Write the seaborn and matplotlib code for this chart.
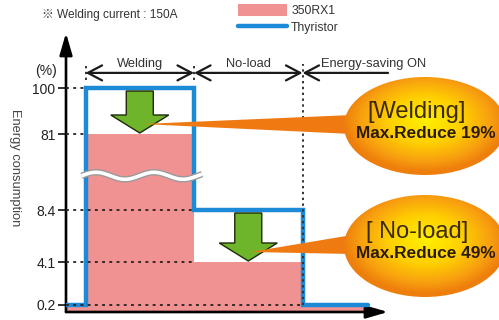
import numpy as np
import pandas as pd
import matplotlib
matplotlib.use("Agg")
import matplotlib.pyplot as plt
import seaborn as sns
from matplotlib.patches import Ellipse, Polygon
from matplotlib.colors import LinearSegmentedColormap
from matplotlib.ticker import NullLocator

# ---- data -------------------------------------------------------------
phases = ["Welding", "No-load", "Energy-saving ON"]
phase_edges = [0.0, 0.9, 5.9, 10.9, 13.9]      # idle | welding | no-load | energy-saving
thyristor = [0.2, 100, 8.4, 0.2]                # energy consumption (%) per phase
rx350 = [0.2, 81, 4.1, 0.2]
tick_values = [0.2, 4.1, 8.4, 81, 100]
series_names = ["350RX1", "Thyristor"]
callout_titles = ["[Welding]", "[ No-load]"]
callout_texts = ["Max.Reduce 19%", "Max.Reduce 49%"]
note = "※ Welding current : 150A"

# ---- styling ----------------------------------------------------------
sns.set_theme(style="white")
plt.rcParams["font.family"] = ["Liberation Sans", "Noto Sans CJK JP", "DejaVu Sans"]
BLUE = "#1d8ad8"
PINK = "#f19292"
GREEN = "#6fb52c"
ORANGE = "#f07a12"
INK = "#222222"

W, H = 499, 320
fig = plt.figure(figsize=(W / 100, H / 100), dpi=100)
fig.patch.set_facecolor("white")

# broken vertical scale: values -> stacked screen positions
scale_vals = [0, 0.2, 4.1, 8.4, 81, 100, 200]
scale_pos = [0, 7, 50, 102, 178, 224, 290]


def fwd(v):
    return np.interp(v, scale_vals, scale_pos)


def inv(p):
    return np.interp(p, scale_pos, scale_vals)


ax = fig.add_axes([66 / W, 8 / H, 322 / W, 279 / H])
ax.set_yscale("function", functions=(fwd, inv))
ax.set_xlim(0, 14.84)
ax.set_ylim(0, float(inv(279)))
ax.patch.set_alpha(0)
for s in ax.spines.values():
    s.set_visible(False)

# 350RX1 filled steps
pink = ax.fill_between(phase_edges, rx350 + rx350[-1:], step="post",
                       color=PINK, lw=0, zorder=2, label=series_names[0])

# Thyristor step line
df_line = pd.DataFrame({"t": phase_edges, "energy": thyristor + thyristor[-1:]})
sns.lineplot(data=df_line, x="t", y="energy", ax=ax, estimator=None,
             drawstyle="steps-post", color=BLUE, lw=3.2, zorder=4,
             legend=False)
line = ax.lines[-1]
line.set_solid_joinstyle("miter")
ax.set_xlabel("")
ax.set_ylabel("")

# dotted guides from the axis to where each level begins
for v in tick_values:
    idx = max(i for i, pair in enumerate(zip(thyristor, rx350)) if v in pair)
    ax.plot([0, phase_edges[idx]], [v, v], ls=(0, (1.6, 2.4)), color=INK,
            lw=1.3, zorder=5)

# y ticks
ax.set_yticks(tick_values)
ax.set_yticklabels([f"{v:g}" for v in tick_values])
ax.yaxis.set_minor_locator(NullLocator())
ax.set_xticks([])
ax.tick_params(axis="y", left=True, length=6, width=1.3, pad=1.5,
               labelsize=10, colors=INK)

# axes with arrow heads
axis_arrow = dict(arrowstyle="-|>,head_length=1.1,head_width=0.32", lw=1.9,
                  color="black", shrinkA=0, shrinkB=0)
ax.annotate("", xy=(0, 1), xytext=(0, 0), xycoords="axes fraction",
            arrowprops=axis_arrow, annotation_clip=False)
ax.annotate("", xy=(1, 0), xytext=(0, 0), xycoords="axes fraction",
            arrowprops=axis_arrow, annotation_clip=False)

# phase spans across the top
trans = ax.get_xaxis_transform()
span_y = 0.857
x_end = ax.get_xlim()[1]
span_arrow = dict(arrowstyle="<->,head_length=0.85,head_width=0.45", lw=1.6,
                  color="#1a1a1a", shrinkA=0, shrinkB=0)
ax.annotate("", xy=(phase_edges[2], span_y), xytext=(phase_edges[1], span_y),
            xycoords=trans, textcoords=trans, arrowprops=span_arrow,
            annotation_clip=False)
ax.annotate("", xy=(phase_edges[3], span_y), xytext=(phase_edges[2], span_y),
            xycoords=trans, textcoords=trans, arrowprops=span_arrow,
            annotation_clip=False)
ax.annotate("", xy=(phase_edges[3], span_y), xytext=(x_end, span_y),
            xycoords=trans, textcoords=trans,
            arrowprops=dict(span_arrow, arrowstyle="->,head_length=0.85,head_width=0.45"),
            annotation_clip=False)

dot_style = dict(ls=(0, (1.2, 1.8)), color="#333333", lw=1.4, zorder=5,
                 clip_on=False)
for xb in phase_edges[1:3]:
    ax.plot([xb, xb], [0.832, 0.89], transform=trans, **dot_style)
y_low = ax.transAxes.inverted().transform(
    ax.transData.transform((phase_edges[3], tick_values[0])))[1]
ax.plot([phase_edges[3], phase_edges[3]], [y_low, 0.89], transform=trans,
        **dot_style)

for name, a, b in zip(phases[:2], phase_edges[1:3], phase_edges[2:4]):
    ax.text((a + b) / 2, 0.878, name, transform=trans, ha="center",
            va="baseline", fontsize=9.3, color="#333333")
ax.annotate(phases[2], xy=(phase_edges[3], 0.878), xycoords=trans,
            xytext=(13, 0), textcoords="offset points", ha="left",
            va="baseline", fontsize=9.3, color="#333333",
            annotation_clip=False)

# ---- overlay in pixel units for the decorations ------------------------
ov = fig.add_axes([0, 0, 1, 1], zorder=5)
ov.set_xlim(0, W)
ov.set_ylim(H, 0)
ov.axis("off")


def to_ov(x, y):
    return ov.transData.inverted().transform(ax.transData.transform((x, y)))


# axis break on the welding bar
x0 = to_ov(phase_edges[1], 0)[0] - 4
x1 = to_ov(phase_edges[2], 0)[0] + 8
ya = to_ov(0, rx350[1])[1]
yb = to_ov(0, thyristor[2])[1]
yc = ya + 0.55 * (yb - ya)
wx = np.linspace(x0, x1, 200)
wy = yc - 3.5 * np.sin(2 * np.pi * (wx - x0) / 58.0)
ov.plot(wx, wy, color="#9a9a9a", lw=4.6, solid_capstyle="butt", zorder=2)
ov.plot(wx, wy, color="white", lw=2.6, solid_capstyle="butt", zorder=3)


def down_arrow(cx, top, tip, shaft_hw=13.5, head_hw=29, head_len=18):
    pts = [(cx - shaft_hw, top), (cx + shaft_hw, top),
           (cx + shaft_hw, tip - head_len), (cx + head_hw, tip - head_len),
           (cx, tip), (cx - head_hw, tip - head_len),
           (cx - shaft_hw, tip - head_len)]
    ov.add_patch(Polygon(pts, closed=True, fc=GREEN, ec="#1d2a08", lw=1.0,
                         joinstyle="miter", zorder=4))
    return cx, tip - head_len / 2


arrow_tips = []
for i in (1, 2):
    mid = (phase_edges[i] + phase_edges[i + 1]) / 2
    cx, top = to_ov(mid, thyristor[i])
    _, tip = to_ov(mid, rx350[i])
    arrow_tips.append(down_arrow(cx, top + 3, tip - 1))

# callout bubbles
cmap = LinearSegmentedColormap.from_list(
    "bubble", [(0.0, "#fff000"), (0.45, "#ffd000"), (0.8, "#f8a010"),
               (1.0, "#ee7f0c")])
bubbles = [(425, 126, 162, 98), (425, 246, 162, 102)]
for (bx, by, bw, bh), (tx, ty), title, text in zip(
        bubbles, arrow_tips, callout_titles, callout_texts):
    # tapered pointer
    ov.add_patch(Polygon([(tx + 2, ty), (bx - bw / 2 + 8, by - 11),
                          (bx - bw / 2 + 8, by + 8)], closed=True,
                         fc=ORANGE, ec="none", zorder=5))
    ell = Ellipse((bx, by), bw, bh, fc="none", ec="none", zorder=6)
    ov.add_patch(ell)
    gx, gy = np.meshgrid(np.linspace(-1, 1, 240), np.linspace(-1, 1, 160))
    r = np.clip(np.sqrt(gx ** 2 + ((gy + 0.12) / 1.05) ** 2), 0, 1)
    im = ov.imshow(r, cmap=cmap, vmin=0, vmax=1, aspect="auto",
                   extent=(bx - bw / 2, bx + bw / 2, by + bh / 2, by - bh / 2),
                   origin="upper", zorder=6, interpolation="bilinear")
    im.set_clip_path(ell)
    ov.text(bx - 8, by - 14, title, ha="center", va="center", fontsize=17,
            color="#3b2a05", zorder=7)
    ov.text(bx + 1, by + 7, text, ha="center", va="center", fontsize=12.4,
            fontweight="bold", color="#2a1c04", zorder=7)
ov.set_xlim(0, W)
ov.set_ylim(H, 0)

# header note, axis labels, legend
fig.text(42 / W, 1 - 15 / H, note, ha="left", va="center", fontsize=8.6,
         color="#333333")
fig.text(57 / W, 1 - 71 / H, "(%)", ha="right", va="center", fontsize=10,
         color=INK)
fig.text(15 / W, 1 - 168 / H, "Energy consumption", rotation=270,
         ha="center", va="center", fontsize=9.3, color="#444444")

fig.legend(handles=[pink, line], labels=series_names, loc="upper left",
           bbox_to_anchor=(238 / W, 1 - 4 / H), frameon=False, fontsize=8.8,
           handlelength=4.0, handleheight=1.1, handletextpad=0.35,
           labelspacing=0.3, borderpad=0, borderaxespad=0,
           labelcolor="#333333")

fig.savefig("out.png", dpi=100)
